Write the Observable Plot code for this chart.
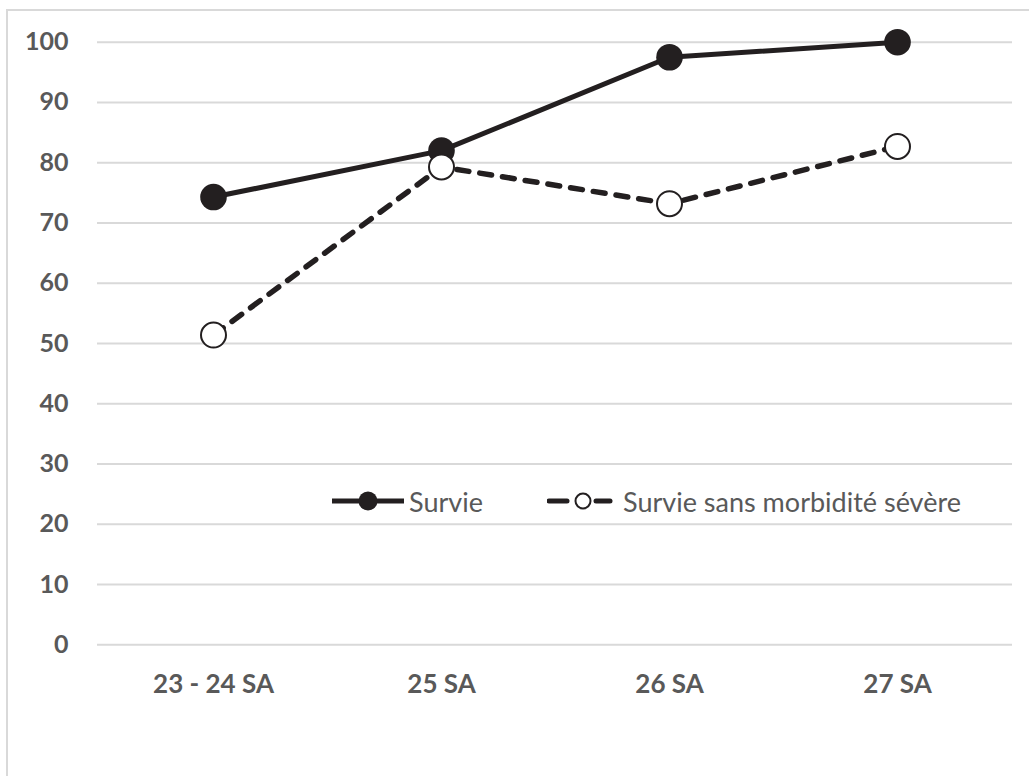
<!DOCTYPE html>
<html>
<head>
<meta charset="utf-8">
<script src="https://cdn.jsdelivr.net/npm/d3@7"></script>
<script src="https://cdn.jsdelivr.net/npm/@observablehq/plot@0.6"></script>
<style>
  html, body { margin: 0; padding: 0; background: #fff; overflow: hidden; width: 1029px; height: 776px; }
  #wrap { position: relative; width: 1029px; height: 776px; overflow: hidden; }
  #frame { position: absolute; left: 6px; top: 9px; width: 1060px; height: 820px; border: 2px solid #d9d9d9; box-sizing: border-box; }
  #chart { position: absolute; left: 0; top: 0; }
  .leg { position: absolute; display: flex; align-items: center; height: 30px; font-family: Lato, "Liberation Sans", sans-serif; font-size: 27px; color: #595959; white-space: nowrap; }
  .leg svg { display: block; }
</style>
</head>
<body>
<div id="wrap">
  <div id="frame"></div>
  <div id="chart"></div>
</div>
<script>
const categories = ["23 - 24 SA", "25 SA", "26 SA", "27 SA"];
const seriesNames = ["Survie", "Survie sans morbidité sévère"];
const survie = [74.3, 82.0, 97.5, 100];
const survieSansMorbidite = [51.4, 79.3, 73.2, 82.7];
const yTicks = [0, 10, 20, 30, 40, 50, 60, 70, 80, 90, 100];

const s1 = categories.map((c, i) => ({cat: c, serie: seriesNames[0], v: survie[i]}));
const s2 = categories.map((c, i) => ({cat: c, serie: seriesNames[1], v: survieSansMorbidite[i]}));
const ink = "#231f20";

const chart = Plot.plot({
  width: 1029,
  height: 776,
  marginLeft: 97,
  marginRight: 17,
  marginTop: 41.7,
  marginBottom: 131.7,
  x: {type: "point", domain: categories, padding: 0.5, label: null},
  y: {domain: [0, 100], label: null},
  style: {fontFamily: "Lato, 'Liberation Sans', sans-serif", background: "transparent", color: "#595959", overflow: "visible"},
  marks: [
    Plot.ruleY(yTicks, {stroke: "#d9d9d9", strokeWidth: 2}),
    Plot.axisY({ticks: yTicks, tickSize: 0, tickPadding: 29, fontSize: 25, fontWeight: "bold", label: null}),
    Plot.axisX({tickSize: 0, tickPadding: 30, fontSize: 26, fontWeight: "bold", label: null}),
    Plot.line(s1, {x: "cat", y: "v", stroke: ink, strokeWidth: 5}),
    Plot.dot(s1, {x: "cat", y: "v", r: 13.3, fill: ink, stroke: null}),
    Plot.line(s2, {x: "cat", y: "v", stroke: ink, strokeWidth: 5.5, strokeDasharray: "12,11", strokeLinecap: "round"}),
    Plot.dot(s2, {x: "cat", y: "v", r: 12.5, fill: "white", stroke: ink, strokeWidth: 2})
  ]
});
document.getElementById("chart").appendChild(chart);

// Legend (HTML overlay inside plot area)
const wrap = d3.select("#wrap");
const leg1 = wrap.append("div").attr("class", "leg").style("left", "332px").style("top", "486px");
const sv1 = leg1.append("svg").attr("width", 72).attr("height", 30);
sv1.append("line").attr("x1", 0).attr("x2", 72).attr("y1", 15).attr("y2", 15).attr("stroke", ink).attr("stroke-width", 5);
sv1.append("circle").attr("cx", 36).attr("cy", 15).attr("r", 9.5).attr("fill", ink);
leg1.append("span").style("margin-left", "5px").text(seriesNames[0]);

const leg2 = wrap.append("div").attr("class", "leg").style("left", "547px").style("top", "486px");
const sv2 = leg2.append("svg").attr("width", 66).attr("height", 30);
sv2.append("line").attr("x1", 2).attr("x2", 20).attr("y1", 15).attr("y2", 15).attr("stroke", ink).attr("stroke-width", 5).attr("stroke-linecap", "round");
sv2.append("line").attr("x1", 49).attr("x2", 63).attr("y1", 15).attr("y2", 15).attr("stroke", ink).attr("stroke-width", 5).attr("stroke-linecap", "round");
sv2.append("circle").attr("cx", 36).attr("cy", 15).attr("r", 7.5).attr("fill", "white").attr("stroke", ink).attr("stroke-width", 2);
leg2.append("span").style("margin-left", "10px").text(seriesNames[1]);
</script>
</body>
</html>
